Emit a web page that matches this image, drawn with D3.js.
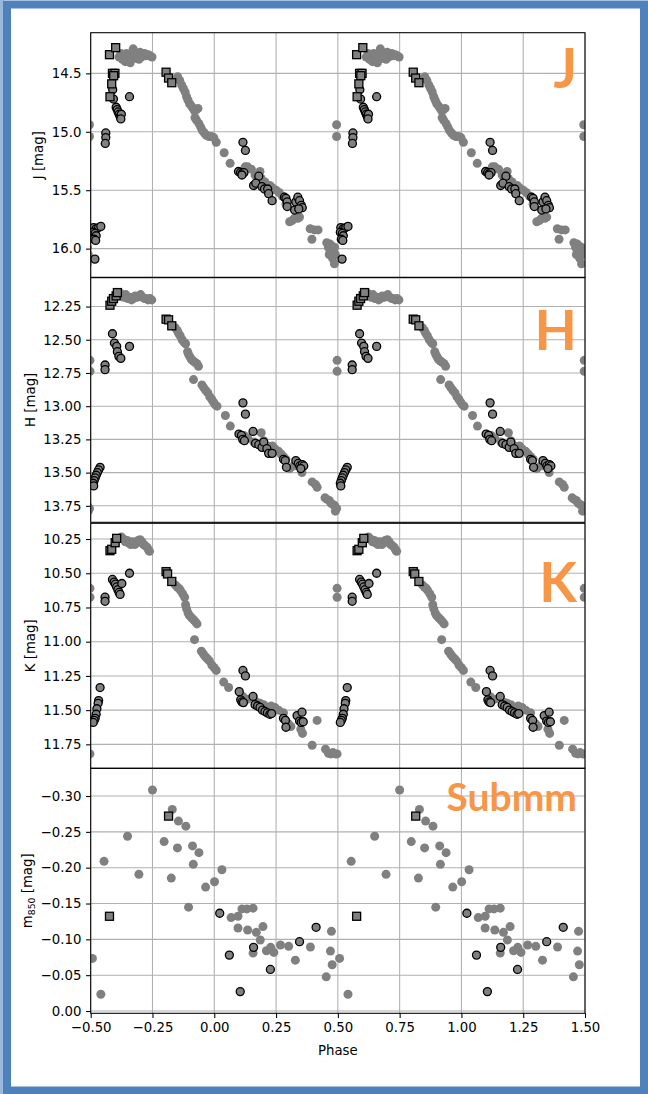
<!DOCTYPE html>
<html>
<head>
<meta charset="utf-8">
<script src="https://cdn.jsdelivr.net/npm/d3@7"></script>
<style>
  body { margin: 0; background: #fff; }
  svg { display: block; }
  .axis text { font-family: "DejaVu Sans", sans-serif; font-size: 13.3px; fill: #000; }
  .axis path, .axis line { stroke: #000; stroke-width: 1.07; }
  .grid line { stroke: #b0b0b0; stroke-width: 1.07; }
</style>
</head>
<body>
<script>
// phase, magnitude  (each set is drawn at phase-1, phase, phase+1)
var jDots = [[-0.385,14.36],[-0.378,14.33],[-0.372,14.38],[-0.365,14.35],[-0.36,14.40],[-0.355,14.33],[-0.35,14.37],[-0.345,14.35],[-0.34,14.41],[-0.335,14.36],[-0.328,14.29],[-0.322,14.33],[-0.318,14.37],[-0.31,14.34],[-0.305,14.38],[-0.30,14.32],[-0.295,14.36],[-0.288,14.34],[-0.282,14.33],[-0.275,14.35],[-0.268,14.34],[-0.26,14.35],[-0.252,14.36],
  [-0.148,14.53],[-0.14,14.56],[-0.132,14.60],[-0.125,14.63],[-0.118,14.66],[-0.112,14.70],[-0.106,14.73],[-0.1,14.76],[-0.092,14.78],[-0.086,14.80],[-0.08,14.82],[-0.072,14.81],[-0.066,14.80],[-0.078,14.88],[-0.072,14.9],[-0.062,14.93],[-0.055,14.96],[-0.048,14.99],[-0.04,15.01],[-0.032,15.03],[-0.022,15.04],[-0.012,15.04],[-0.002,15.05],[0.008,15.09],[0.04,15.18],[0.064,15.27],
  [0.125,15.30],[0.135,15.30],[0.15,15.32],[0.165,15.37],[0.185,15.34],[0.19,15.4],[0.205,15.43],[0.225,15.46],[0.235,15.48],[0.25,15.50],[0.262,15.52],[0.275,15.55],[0.29,15.62],
  [0.305,15.77],[0.315,15.76],[0.325,15.74],[0.338,15.74],[0.345,15.73],[0.388,15.83],[0.405,15.84],[0.42,15.84],[0.395,15.92],
  [0.455,15.95],[0.462,15.99],[0.468,15.96],[0.472,16.02],[0.477,15.98],[0.482,16.03],[0.487,15.99],[0.49,16.05],[0.465,16.05],[0.478,16.08],[0.486,16.13],
  [0.495,14.94],[0.495,15.04]];
var jCircles = [[-0.411,14.64],[-0.408,14.72],[-0.343,14.70],
  [-0.397,14.79],[-0.393,14.81],[-0.389,14.83],[-0.385,14.85],[-0.381,14.87],[-0.376,14.85],[-0.378,14.89],
  [-0.439,15.01],[-0.439,15.05],[-0.441,15.10],
  [-0.488,15.82],[-0.478,15.83],[-0.468,15.82],[-0.459,15.81],[-0.49,15.86],[-0.482,15.87],[-0.478,15.89],[-0.486,15.92],[-0.48,15.93],[-0.483,16.09],
  [0.116,15.09],[0.126,15.16],
  [0.098,15.34],[0.106,15.35],[0.112,15.36],[0.12,15.35],[0.112,15.37],
  [0.159,15.46],[0.18,15.38],[0.168,15.44],[0.193,15.47],[0.203,15.49],[0.216,15.49],[0.22,15.53],[0.234,15.59],
  [0.284,15.56],[0.29,15.57],[0.295,15.6],[0.295,15.64],[0.33,15.6],[0.338,15.56],[0.345,15.59],[0.352,15.63],[0.356,15.65],[0.325,15.67],[0.342,15.66]];
var jSquares = [[-0.424,14.34],[-0.399,14.28],[-0.412,14.50],[-0.402,14.50],[-0.407,14.52],[-0.415,14.59],[-0.422,14.70],[-0.195,14.49],[-0.185,14.54],[-0.172,14.58]];

var hDots = [[-0.38,12.15],[-0.372,12.17],[-0.365,12.18],[-0.358,12.16],[-0.35,12.19],[-0.342,12.18],[-0.335,12.20],[-0.328,12.19],[-0.32,12.17],[-0.312,12.18],[-0.305,12.17],[-0.298,12.16],[-0.29,12.18],[-0.282,12.19],[-0.275,12.19],[-0.268,12.20],[-0.26,12.19],[-0.253,12.20],
  [-0.158,12.41],[-0.15,12.43],[-0.145,12.45],[-0.138,12.47],[-0.13,12.50],[-0.122,12.52],[-0.116,12.53],[-0.108,12.59],[-0.104,12.61],[-0.098,12.63],[-0.092,12.65],[-0.085,12.66],[-0.078,12.67],[-0.07,12.68],[-0.064,12.70],[-0.084,12.80],[-0.05,12.84],[-0.043,12.86],[-0.035,12.88],[-0.026,12.90],[-0.018,12.93],[-0.01,12.95],[-0.003,12.97],[0.004,12.99],[0.011,13.0],[0.045,13.07],[0.065,13.15],
  [0.12,13.22],[0.135,13.24],[0.16,13.27],[0.19,13.2],[0.2,13.26],[0.215,13.3],[0.235,13.3],[0.245,13.32],[0.26,13.34],[0.27,13.36],[0.28,13.38],[0.29,13.40],[0.305,13.47],[0.32,13.45],[0.355,13.50],
  [0.396,13.57],[0.41,13.59],[0.416,13.61],[0.448,13.69],[0.455,13.70],[0.465,13.71],[0.472,13.73],[0.48,13.74],[0.488,13.75],[0.495,13.77],[0.49,13.79],
  [0.497,12.655],[0.497,12.7375]];
var hCircles = [[-0.412,12.455],[-0.404,12.525],[-0.395,12.55],[-0.392,12.59],[-0.386,12.625],[-0.378,12.64],[-0.343,12.55],[-0.442,12.69],[-0.442,12.725],
  [-0.462,13.46],[-0.468,13.48],[-0.473,13.50],[-0.478,13.52],[-0.482,13.54],[-0.486,13.56],[-0.49,13.58],[-0.488,13.6],
  [0.116,12.975],[0.126,13.06],
  [0.1,13.21],[0.11,13.22],[0.115,13.25],[0.122,13.26],
  [0.157,13.19],[0.167,13.28],[0.18,13.29],[0.193,13.31],[0.2,13.27],[0.213,13.32],[0.22,13.355],[0.234,13.355],
  [0.28,13.40],[0.287,13.41],[0.292,13.46],[0.33,13.41],[0.34,13.43],[0.346,13.45],[0.356,13.44],[0.362,13.45],[0.35,13.47]];
var hSquares = [[-0.422,12.24],[-0.415,12.21],[-0.408,12.19],[-0.397,12.17],[-0.392,12.145],[-0.195,12.345],[-0.185,12.35],[-0.172,12.395]];

var kDots = [[-0.376,10.235],[-0.368,10.25],[-0.36,10.27],[-0.352,10.26],[-0.345,10.28],[-0.338,10.29],[-0.33,10.27],[-0.322,10.29],[-0.315,10.28],[-0.308,10.26],[-0.3,10.255],[-0.293,10.27],[-0.286,10.29],[-0.279,10.30],[-0.272,10.31],[-0.266,10.33],[-0.262,10.34],
  [-0.158,10.585],[-0.15,10.6],[-0.143,10.61],[-0.137,10.625],[-0.128,10.65],[-0.12,10.675],[-0.116,10.73],[-0.112,10.76],[-0.106,10.79],[-0.1,10.81],[-0.092,10.825],[-0.084,10.84],[-0.076,10.855],[-0.07,10.87],[-0.08,10.985],[-0.052,11.07],[-0.044,11.09],[-0.036,11.11],[-0.028,11.125],[-0.02,11.14],[-0.01,11.17],[0.0,11.19],[0.008,11.21],[0.038,11.295],[0.058,11.335],
  [0.115,11.40],[0.135,11.42],[0.17,11.44],[0.185,11.45],[0.2,11.46],[0.23,11.47],[0.245,11.48],[0.26,11.50],[0.28,11.52],[0.3,11.60],[0.31,11.62],[0.35,11.64],[0.357,11.67],[0.416,11.575],
  [0.396,11.757],[0.45,11.785],[0.462,11.815],[0.472,11.82],[0.48,11.81],[0.49,11.82],[0.497,11.82],
  [0.497,10.61],[0.497,10.675]];
var kCircles = [[-0.412,10.545],[-0.405,10.565],[-0.4,10.58],[-0.395,10.6],[-0.39,10.62],[-0.385,10.64],[-0.381,10.655],[-0.374,10.575],[-0.343,10.5],[-0.442,10.675],[-0.442,10.705],
  [-0.462,11.335],[-0.468,11.43],[-0.47,11.45],[-0.475,11.49],[-0.478,11.53],[-0.482,11.56],[-0.486,11.575],[-0.49,11.59],
  [0.116,11.21],[0.126,11.25],
  [0.101,11.365],[0.107,11.425],[0.112,11.44],[0.118,11.445],
  [0.157,11.40],[0.165,11.46],[0.175,11.47],[0.185,11.48],[0.195,11.50],[0.205,11.51],[0.215,11.52],[0.225,11.53],[0.232,11.525],
  [0.28,11.56],[0.288,11.575],[0.29,11.625],[0.335,11.54],[0.355,11.515],[0.345,11.58],[0.352,11.59],[0.36,11.585]];
var kSquares = [[-0.422,10.335],[-0.415,10.325],[-0.401,10.277],[-0.395,10.245],[-0.195,10.488],[-0.189,10.505],[-0.172,10.56]];

var sDots = [[-0.493,-0.0734],[-0.459,-0.0234],[-0.446,-0.2089],[-0.351,-0.2439],[-0.305,-0.1907],[-0.25,-0.3084],[-0.203,-0.2364],[-0.174,-0.1855],[-0.17,-0.2813],[-0.149,-0.2276],[-0.145,-0.265],[-0.115,-0.258],[-0.104,-0.1449],[-0.088,-0.2304],[-0.085,-0.2047],[-0.062,-0.221],[-0.035,-0.1729],[0.001,-0.1804],[0.031,-0.1972],
  [0.068,-0.1304],[0.096,-0.1322],[0.096,-0.1159],[0.112,-0.1425],[0.132,-0.1425],[0.157,-0.1435],[0.135,-0.1131],[0.17,-0.1098],[0.186,-0.0991],[0.197,-0.1178],[0.157,-0.0808],[0.211,-0.0841],[0.241,-0.0818],[0.228,-0.0888],[0.268,-0.0921],[0.301,-0.0902],[0.328,-0.071],[0.389,-0.0893],[0.453,-0.0477],[0.47,-0.0836],[0.474,-0.1112],[0.477,-0.0645]];
var sCircles = [[0.022,-0.1364],[0.061,-0.078],[0.105,-0.0271],[0.159,-0.0888],[0.227,-0.058],[0.345,-0.0967],[0.412,-0.1168]];
var sSquares = [[-0.424,-0.1322],[-0.185,-0.272]];

var xTicks = [-0.5, -0.25, 0, 0.25, 0.5, 0.75, 1.0, 1.25, 1.5];

var panels = [
  { name: "J", label: "J [mag]", dom: [14.152, 16.249], ticks: [14.5, 15.0, 15.5, 16.0], fmt: ".1f", dots: jDots, circles: jCircles, squares: jSquares, top: 32.7, tagSize: 55, tagY: 88 },
  { name: "H", label: "H [mag]", dom: [12.03, 13.874], ticks: [12.25, 12.5, 12.75, 13.0, 13.25, 13.5, 13.75], fmt: ".2f", dots: hDots, circles: hCircles, squares: hSquares, top: 277.3, tagSize: 55, tagY: 350 },
  { name: "K", label: "K [mag]", dom: [10.135, 11.925], ticks: [10.25, 10.5, 10.75, 11.0, 11.25, 11.5, 11.75], fmt: ".2f", dots: kDots, circles: kCircles, squares: kSquares, top: 523.3, tagSize: 55, tagY: 602 },
  { name: "Submm", label: "m850", dom: [-0.3387, 0.0032], ticks: [-0.30, -0.25, -0.20, -0.15, -0.10, -0.05, 0.0], fmt: ".2f", dots: sDots, circles: sCircles, squares: sSquares, top: 768.3, tagSize: 39, tagY: 811 }
];

var W = 648, H = 1094;
var left = 90.7, right = 585, panelH = 245;
var tickLen = 4.67, tickPad = 4.67;

var svg = d3.select("body").append("svg")
  .attr("width", W)
  .attr("height", H);

// slide frame
svg.append("rect").attr("x", 0).attr("y", 0).attr("width", 3.5).attr("height", H).attr("fill", "#9bb7dc");
svg.append("rect")
  .attr("x", 7).attr("y", 4.5).attr("width", 637).attr("height", 1086)
  .attr("fill", "none").attr("stroke", "#4f81bd").attr("stroke-width", 8);

var x = d3.scaleLinear().domain([-0.5, 1.5]).range([left, right]);
var shifts = [-1, 0, 1];

function expand(arr) {
  var out = [];
  shifts.forEach(function(s) {
    arr.forEach(function(d) { out.push([d[0] + s, d[1]]); });
  });
  return out;
}

panels.forEach(function(p, i) {
  var y = d3.scaleLinear().domain(p.dom).range([p.top, p.top + panelH]);
  var g = svg.append("g");

  g.append("clipPath").attr("id", "clip" + i)
    .append("rect")
    .attr("x", left).attr("y", p.top)
    .attr("width", right - left).attr("height", panelH);

  // grid
  var grid = g.append("g").attr("class", "grid");
  grid.selectAll(".vx").data(xTicks).enter().append("line")
    .attr("x1", function(d) { return x(d); }).attr("x2", function(d) { return x(d); })
    .attr("y1", p.top).attr("y2", p.top + panelH);
  grid.selectAll(".hy").data(p.ticks).enter().append("line")
    .attr("x1", left).attr("x2", right)
    .attr("y1", function(d) { return y(d); }).attr("y2", function(d) { return y(d); });

  var marks = g.append("g").attr("clip-path", "url(#clip" + i + ")");

  marks.selectAll(".dot").data(expand(p.dots)).enter().append("circle")
    .attr("cx", function(d) { return x(d[0]); })
    .attr("cy", function(d) { return y(d[1]); })
    .attr("r", 4.5)
    .attr("fill", "#808080");

  marks.selectAll(".ring").data(expand(p.circles)).enter().append("circle")
    .attr("cx", function(d) { return x(d[0]); })
    .attr("cy", function(d) { return y(d[1]); })
    .attr("r", 4)
    .attr("fill", "#808080")
    .attr("stroke", "#000")
    .attr("stroke-width", 1.3);

  marks.selectAll(".sq").data(expand(p.squares)).enter().append("rect")
    .attr("x", function(d) { return x(d[0]) - 4; })
    .attr("y", function(d) { return y(d[1]) - 4; })
    .attr("width", 8).attr("height", 8)
    .attr("fill", "#808080")
    .attr("stroke", "#000")
    .attr("stroke-width", 1.3);

  // y axis
  var yAx = g.append("g").attr("class", "axis")
    .attr("transform", "translate(" + left + ",0)")
    .call(d3.axisLeft(y).tickValues(p.ticks).tickFormat(d3.format(p.fmt)).tickSize(tickLen).tickPadding(tickPad).tickSizeOuter(0))
    .call(function(a) { a.select(".domain").remove(); });

  // frame
  g.append("rect")
    .attr("x", left).attr("y", p.top)
    .attr("width", right - left).attr("height", panelH)
    .attr("fill", "none").attr("stroke", "#000").attr("stroke-width", 1.07);

  // y label, placed left of the widest tick label like matplotlib
  var labLeft = left + yAx.node().getBBox().x;
  var lab = g.append("text")
    .attr("transform", "translate(" + (labLeft - 5.3 - 3.2) + "," + (p.top + panelH / 2) + ") rotate(-90)")
    .attr("text-anchor", "middle")
    .style("font-family", "DejaVu Sans, sans-serif")
    .style("font-size", "13.3px");
  if (p.name === "Submm") {
    lab.append("tspan").text("m");
    lab.append("tspan").attr("dy", 3).style("font-size", "9.3px").text("850");
    lab.append("tspan").attr("dy", -3).text(" [mag]");
  } else {
    lab.text(p.label);
  }

  // band tag
  g.append("text")
    .attr("x", 577).attr("y", p.tagY)
    .attr("text-anchor", "end")
    .style("font-family", "Lato, 'Open Sans', sans-serif")
    .style("font-weight", "bold")
    .style("font-size", p.tagSize + "px")
    .attr("fill", "#f79646")
    .text(p.name);

  if (i === panels.length - 1) {
    g.append("g").attr("class", "axis")
      .attr("transform", "translate(0," + (p.top + panelH) + ")")
      .call(d3.axisBottom(x).tickValues(xTicks).tickFormat(d3.format(".2f")).tickSize(tickLen).tickPadding(tickPad).tickSizeOuter(0))
      .call(function(a) { a.select(".domain").remove(); });
    svg.append("text")
      .attr("x", (left + right) / 2).attr("y", 1055)
      .attr("text-anchor", "middle")
      .style("font-family", "DejaVu Sans, sans-serif")
      .style("font-size", "13.3px")
      .text("Phase");
  }
});
</script>
</body>
</html>
